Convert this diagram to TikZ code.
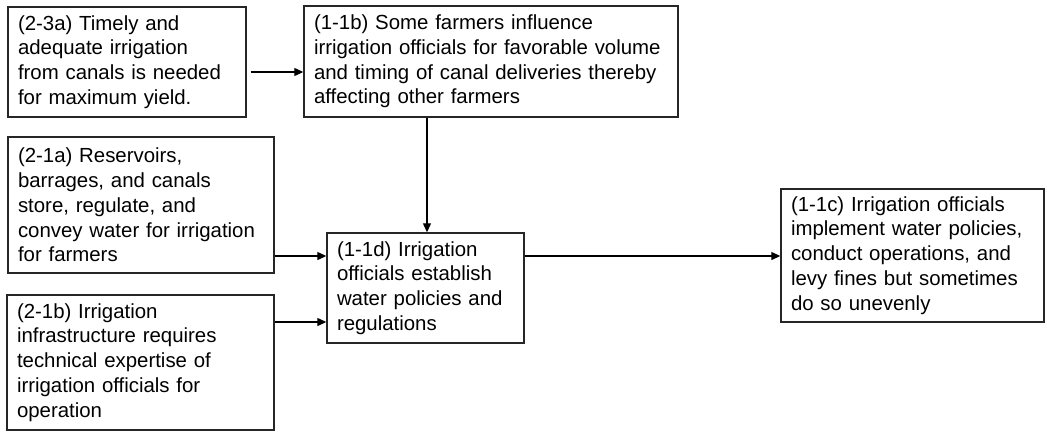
\documentclass[tikz,border=0pt]{standalone}
\usepackage{fontspec}
\setmainfont{Liberation Sans}
\usetikzlibrary{arrows.meta}
\hyphenpenalty=10000
\exhyphenpenalty=10000
\begin{document}
\begin{tikzpicture}[x=1pt,y=-1pt,
  box/.style={draw=black!85, line width=1.4pt, align=left, inner xsep=10pt, inner ysep=3pt,
    font=\fontsize{20.4}{24.8}\selectfont, anchor=center},
  conn/.style={line width=1.2pt, -{Triangle[length=9pt,width=8pt]}}]
\useasboundingbox (0,0) rectangle (1047,432);
\node[box, text width=218pt, minimum height=110pt] (A) at (127,62)
  {(2-3a) Timely and\\adequate irrigation\\from canals is needed\\for maximum yield.};
\node[box, text width=354pt, minimum height=111pt] (B) at (491,61.5)
  {(1-1b) Some farmers influence\\irrigation officials for favorable volume\\and timing of canal deliveries thereby\\affecting other farmers};
\node[box, text width=246pt, minimum height=136pt] (C) at (141,205)
  {(2-1a) Reservoirs,\\barrages, and canals\\store, regulate, and\\convey water for irrigation\\for farmers};
\node[box, text width=247pt, minimum height=135pt] (D) at (140.5,362.5)
  {(2-1b) Irrigation\\infrastructure requires\\technical expertise of\\irrigation officials for\\operation};
\node[box, text width=177pt, minimum height=110pt] (E) at (425.5,288)
  {(1-1d) Irrigation\\officials establish\\water policies and\\regulations};
\node[box, text width=243pt, minimum height=133pt] (F) at (912.5,255.5)
  {(1-1c) Irrigation officials\\implement water policies,\\conduct operations, and\\levy fines but sometimes\\do so unevenly};
\draw[conn, shorten <=4pt] ([yshift=-10pt]A.east) -- ([yshift=-10pt]A.east -| B.west);
\draw[conn] ([xshift=-64pt]B.south) -- ([xshift=-64pt]B.south |- E.north);
\draw[conn] ([yshift=-51pt]C.east) -- ([yshift=-51pt]C.east -| E.west);
\draw[conn] ([yshift=40.5pt]D.east) -- ([yshift=40.5pt]D.east -| E.west);
\draw[conn] ([yshift=32pt]E.east) -- ([yshift=32pt]E.east -| F.west);
\end{tikzpicture}
\end{document}
